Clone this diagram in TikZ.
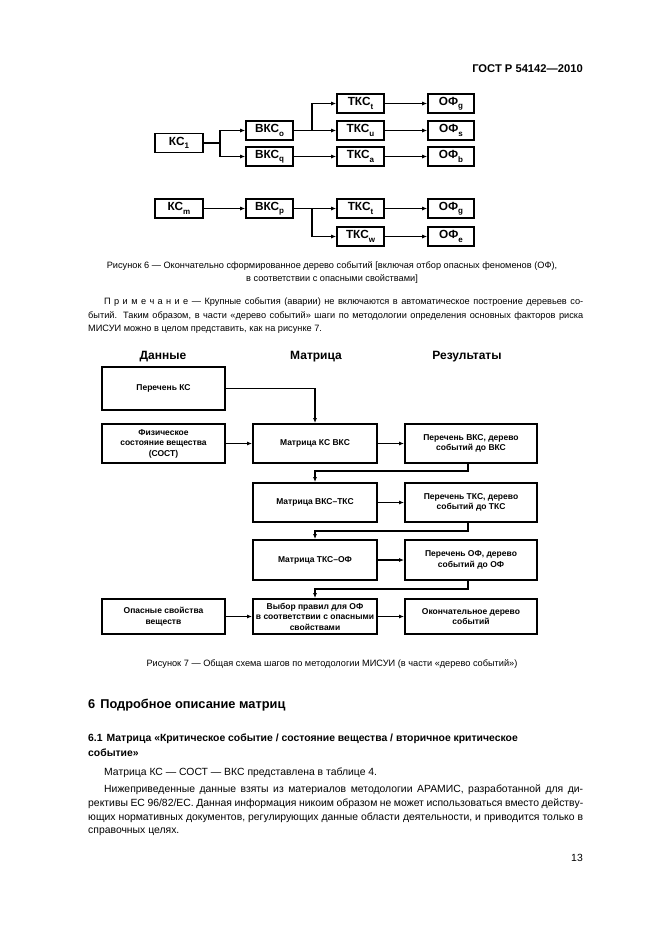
\documentclass[tikz,border=0pt]{standalone}
\usepackage{fontspec}
\setmainfont{Liberation Sans}
\usetikzlibrary{arrows.meta}
\newcommand\lowsub[1]{\raisebox{-0.55ex}{\fontsize{8}{8}\selectfont #1}}
\newcommand\jline[2]{\makebox[#1pt][s]{#2}}
\newcommand\lsp{\kern3.4pt}
\begin{document}
\begin{tikzpicture}[x=1pt,y=-1pt,
  tbox/.style={draw,line width=1.6pt,inner sep=0pt,minimum height=19pt,minimum width=47pt,font=\fontsize{11.8}{12}\selectfont\bfseries},
  mbox/.style={draw,line width=1.8pt,inner sep=0pt,align=center,minimum width=124pt,minimum height=39pt,font=\fontsize{8.5}{10.5}\selectfont\bfseries},
  arr/.style={line width=1.2pt,-{Latex[length=5pt,width=4pt]}},
  txt/.style={inner sep=0pt,anchor=west,font=\fontsize{10.4}{14}\selectfont},
  notetxt/.style={inner sep=0pt,anchor=west,font=\fontsize{9.2}{13}\selectfont},
  captxt/.style={inner sep=0pt,align=center,font=\fontsize{9.2}{13}\selectfont},
  hdr/.style={inner sep=0pt,font=\fontsize{12}{14}\selectfont\bfseries}]
\useasboundingbox (0,0) rectangle (661,935);

% page header
\node[inner sep=0pt,anchor=east,font=\fontsize{11.2}{13}\selectfont\bfseries] (gost) at (583,69) {ГОСТ Р 54142—2010};

% Figure 6
\node[tbox,minimum width=48pt] (kc1) at (179,143) {КС\lowsub{1}};
\node[tbox] (vko) at (269.5,130.5) {ВКС\lowsub{o}};
\node[tbox] (vkq) at (269.5,156.5) {ВКС\lowsub{q}};
\node[tbox] (tkt) at (360.5,103.5) {ТКС\lowsub{t}};
\node[tbox] (tku) at (360.5,130.5) {ТКС\lowsub{u}};
\node[tbox] (tka) at (360.5,156.5) {ТКС\lowsub{a}};
\node[tbox,minimum width=46pt] (ofg) at (451,103.5) {ОФ\lowsub{g}};
\node[tbox,minimum width=46pt] (ofs) at (451,130.5) {ОФ\lowsub{s}};
\node[tbox,minimum width=46pt] (ofb) at (451,156.5) {ОФ\lowsub{b}};
\node[tbox,minimum width=48pt] (kcm) at (179,208.5) {КС\lowsub{m}};
\node[tbox] (vkp) at (269.5,208.5) {ВКС\lowsub{p}};
\node[tbox] (tkt2) at (360.5,208.5) {ТКС\lowsub{t}};
\node[tbox] (tkw) at (360.5,236.5) {ТКС\lowsub{w}};
\node[tbox,minimum width=46pt] (ofg2) at (451,208.5) {ОФ\lowsub{g}};
\node[tbox,minimum width=46pt] (ofe) at (451,236.5) {ОФ\lowsub{e}};

\coordinate (b1) at (220,143);
\coordinate (b2) at (312,130.5);
\coordinate (b3) at (312,208.5);
\draw[line width=2.2pt] (kc1.east) -- (b1);
\draw[arr] (b1) |- (vko.west);
\draw[arr] (b1) |- (vkq.west);
\draw[arr] (vko.east) -- (tku.west);
\draw[arr] (b2) |- (tkt.west);
\draw[arr] (vkq.east) -- (tka.west);
\draw[arr] (tkt.east) -- (ofg.west);
\draw[arr] (tku.east) -- (ofs.west);
\draw[arr] (tka.east) -- (ofb.west);
\draw[arr] (kcm.east) -- (vkp.west);
\draw[arr] (vkp.east) -- (tkt2.west);
\draw[arr] (b3) |- (tkw.west);
\draw[arr] (tkt2.east) -- (ofg2.west);
\draw[arr] (tkw.east) -- (ofe.west);

% caption 6
\node[captxt] (cap6) at (332,272.5) {Рисунок 6 — Окончательно сформированное дерево событий [включая отбор опасных феноменов (ОФ),\\в соответствии с опасными свойствами]};

% note
\node[notetxt] (n1) at (104,302) {\jline{479}{П\lsp р\lsp и\lsp м\lsp е\lsp ч\lsp а\lsp н\lsp и\lsp е — Крупные события (аварии) не включаются в автоматическое построение деревьев со-}};
\node[notetxt] (n2) at (88,316) {\jline{495}{бытий. Таким образом, в части «дерево событий» шаги по методологии определения основных факторов риска}};
\node[notetxt] (n3) at (88,329) {МИСУИ можно в целом представить, как на рисунке 7.};

% Figure 7
\node[hdr] (hd) at (163,357) {Данные};
\node[hdr] (hm) at (316,357) {Матрица};
\node[hdr] (hr) at (467,357) {Результаты};

\node[mbox,minimum width=123pt,minimum height=43pt] (l1) at (163.5,388.5) {Перечень КС};
\node[mbox,minimum width=123pt] (l2) at (163.5,443.5) {Физическое\\состояние вещества\\(СОСТ)};
\node[mbox] (m2) at (315,443.5) {Матрица КС ВКС};
\node[mbox,minimum width=132pt] (r2) at (471,443.5) {Перечень ВКС, дерево\\событий до ВКС};
\node[mbox] (m3) at (315,502.5) {Матрица ВКС–ТКС};
\node[mbox,minimum width=132pt] (r3) at (471,502.5) {Перечень ТКС, дерево\\событий до ТКС};
\node[mbox,minimum height=40pt] (m4) at (315,560) {Матрица ТКС–ОФ};
\node[mbox,minimum width=132pt,minimum height=40pt] (r4) at (471,560) {Перечень ОФ, дерево\\событий до ОФ};
\node[mbox,minimum width=123pt,minimum height=35pt] (l5) at (163.5,616.5) {Опасные свойства\\веществ};
\node[mbox,minimum height=35pt] (m5) at (315,616.5) {Выбор правил для ОФ\\в соответствии с опасными\\свойствами};
\node[mbox,minimum width=132pt,minimum height=35pt] (r5) at (471,616.5) {Окончательное дерево\\событий};

\draw[arr] (l1.east) -| (m2.north);
\draw[arr] (l2.east) -- (m2.west);
\draw[arr] (m2.east) -- (r2.west);
\draw[arr] ([xshift=-3pt]r2.south) -- ++(0,7) -| (m3.north);
\draw[arr] (m3.east) -- (r3.west);
\draw[arr] ([xshift=-3pt]r3.south) -- ++(0,8) -| (m4.north);
\draw[arr] (m4.east) -- (r4.west);
\draw[arr] ([xshift=-3pt]r4.south) -- ++(0,8) -| (m5.north);
\draw[arr] (l5.east) -- (m5.west);
\draw[arr] (m5.east) -- (r5.west);

\node[captxt] (cap7) at (332,664) {Рисунок 7 — Общая схема шагов по методологии МИСУИ (в части «дерево событий»)};

% section 6
\node[inner sep=0pt,anchor=west,font=\fontsize{12.8}{15}\selectfont\bfseries] (s6) at (88,705) {6\kern5pt Подробное описание матриц};
\node[inner sep=0pt,anchor=west,font=\fontsize{10.4}{14}\selectfont\bfseries] (s61a) at (88,739) {6.1\kern4pt Матрица «Критическое событие / состояние вещества / вторичное критическое};
\node[inner sep=0pt,anchor=west,font=\fontsize{10.4}{14}\selectfont\bfseries] (s61b) at (88,753) {событие»};
\node[txt] (p1) at (104,773) {Матрица КС — СОСТ — ВКС представлена в таблице 4.};
\node[txt] (p2) at (104,790) {\jline{479}{Нижеприведенные данные взяты из материалов методологии АРАМИС, разработанной для ди-}};
\node[txt] (p3) at (88,804) {\jline{495}{рективы ЕС 96/82/ЕС. Данная информация никоим образом не может использоваться вместо действу-}};
\node[txt] (p4) at (88,818) {\jline{495}{ющих нормативных документов, регулирующих данные области деятельности, и приводится только в}};
\node[txt] (p5) at (88,832) {справочных целях.};
\node[inner sep=0pt,anchor=east,font=\fontsize{10.4}{14}\selectfont] (pg) at (583,858) {13};
\end{tikzpicture}
\end{document}
